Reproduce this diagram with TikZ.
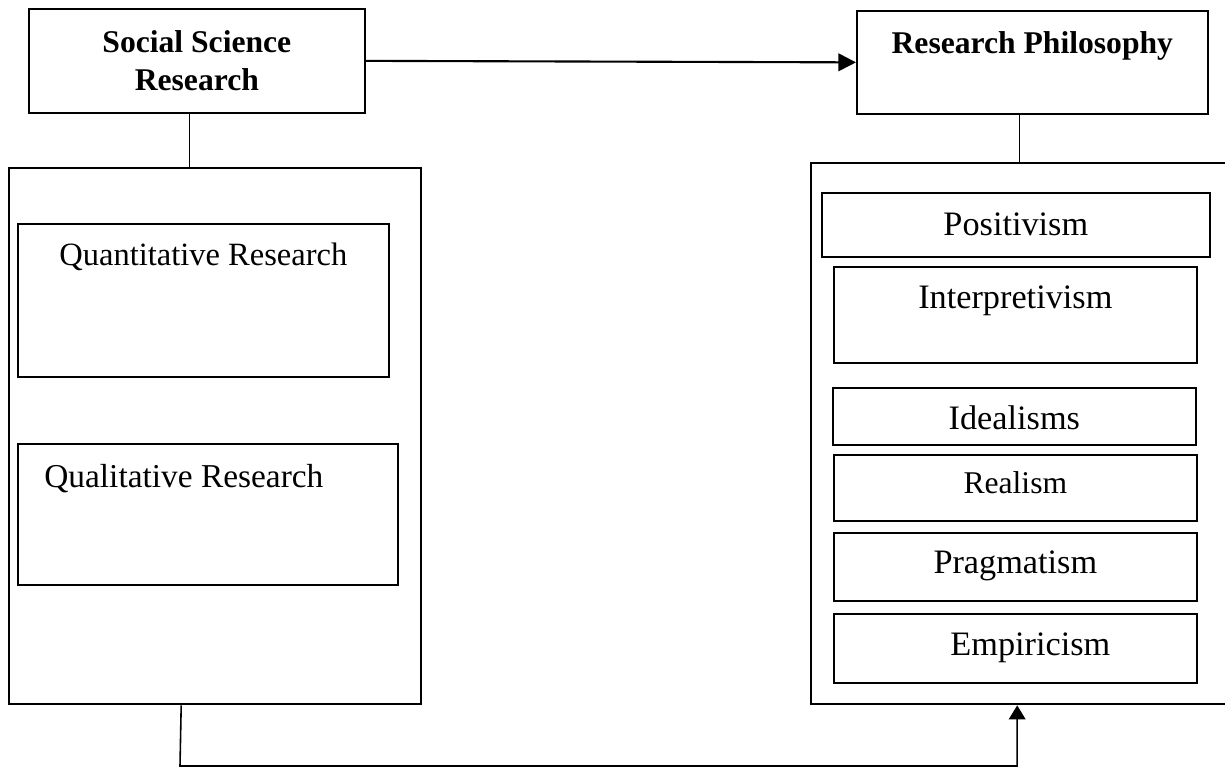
\documentclass[tikz,border=0pt]{standalone}
\usepackage{fontspec}
\setmainfont{Liberation Serif}
\usetikzlibrary{arrows.meta}
\begin{document}
\begin{tikzpicture}[x=0.02cm,y=-0.02cm,
  box/.style={draw, line width=1pt, inner sep=0pt, anchor=north west},
  big/.style={draw, line width=1.4pt, inner sep=0pt, anchor=north west},
  conn/.style={line width=0.7pt},
  tipa/.style={-{Triangle[length=10pt,width=10pt]}},
  tipb/.style={-{Triangle[length=8pt,width=9.5pt]}},
  txt/.style={font=\fontsize{19.5}{23}\selectfont},
]
\useasboundingbox (0,0) rectangle (1225,767);
\clip (0,0) rectangle (1225,767);

% big containers
\node[big, minimum width=8.24cm, minimum height=10.72cm] (lbig) at (8,167) {};
\node[big, minimum width=8.44cm, minimum height=10.82cm] (rbig) at (810,162) {};

% titles
\node[box, minimum width=6.72cm, minimum height=2.08cm, align=center,
      font=\bfseries\fontsize{18}{21.5}\selectfont] (ssr) at (28,8) {Social Science\\Research};
\node[box, minimum width=7.02cm, text height=0.86cm, text depth=1.2cm,
      font=\bfseries\fontsize{18}{21.5}\selectfont] (rp) at (856,10) {Research Philosophy};

% left inner boxes
\node[box, minimum width=7.42cm, text height=0.84cm, text depth=2.22cm,
      font=\fontsize{18.5}{22}\selectfont] (quant) at (17,223) {Quantitative Research};
\node[box, minimum width=7.6cm, text height=0.88cm, text depth=1.94cm,
      font=\fontsize{19}{22}\selectfont] (qual) at (17,443) {Qualitative Research\hspace*{0.96cm}};

% right inner boxes
\node[box, txt, minimum width=7.76cm, text height=0.86cm, text depth=0.42cm] (pos) at (821,192) {Positivism};
\node[box, txt, minimum width=7.26cm, text height=0.84cm, text depth=1.08cm] (interp) at (833,266) {Interpretivism};
\node[box, txt, minimum width=7.26cm, text height=0.84cm, text depth=0.30cm] (ideal) at (832,387) {Idealisms};
\node[box, minimum width=7.26cm, text height=0.78cm, text depth=0.54cm,
      font=\fontsize{18}{21}\selectfont] (real) at (833,454) {Realism};
\node[box, txt, minimum width=7.26cm, text height=0.82cm, text depth=0.54cm] (prag) at (833,532) {Pragmatism};
\node[box, txt, minimum width=7.26cm, text height=0.84cm, text depth=0.54cm] (emp) at (833,613) {\hspace*{0.6cm}Empiricism};

% connectors
\draw[conn, line width=1.2pt, tipa] (ssr.east) -- (rp.west);
\draw[conn] ([xshift=-0.14cm]ssr.south) -- ([xshift=-0.14cm]ssr.south |- lbig.north);
\draw[conn] ([xshift=-0.26cm]rp.south) -- ([xshift=-0.26cm]rp.south |- rbig.north);
\coordinate (bl) at (180,766);
\draw[conn, line width=0.9pt, tipb] ([xshift=-0.68cm]lbig.south) -- (bl) -| ([xshift=-0.1cm]rbig.south);
\end{tikzpicture}
\end{document}
